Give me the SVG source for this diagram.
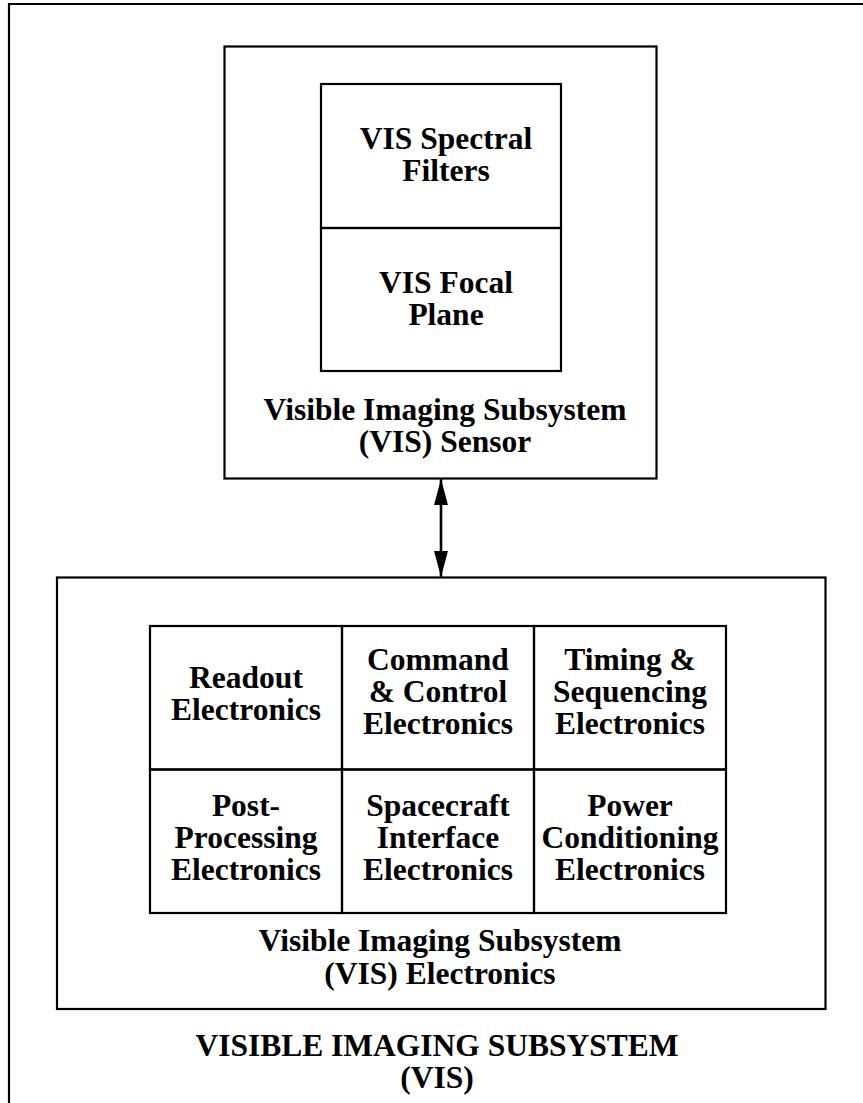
<svg xmlns="http://www.w3.org/2000/svg" width="863" height="1103" viewBox="0 0 863 1103">
<style>
.box{fill:none;stroke:#000;stroke-width:2.2}
.t{font-family:"Liberation Serif","Times New Roman",serif;font-weight:bold;font-size:31.5px;text-anchor:middle;fill:#000}
.conn{stroke:#000;stroke-width:2.6;fill:none}
</style>
<defs>
<marker id="ah" viewBox="0 0 26 14" refX="26" refY="7" markerWidth="26" markerHeight="14" markerUnits="userSpaceOnUse" orient="auto-start-reverse">
<path d="M0 0 L26 7 L0 14 Z" fill="#000"/>
</marker>
</defs>
<rect width="863" height="1103" fill="#fff"/>
<g id="vis-frame">
<path class="box" d="M9 1110 V4 H870"/>
<text class="t" x="437" y="1056">VISIBLE IMAGING SUBSYSTEM</text>
<text class="t" x="437" y="1088">(VIS)</text>
</g>
<g id="vis-sensor">
<rect class="box" x="224.5" y="46.5" width="432" height="432"/>
<text class="t" x="445" y="420">Visible Imaging Subsystem</text>
<text class="t" x="445" y="452">(VIS) Sensor</text>
</g>
<g id="spectral-filters">
<rect class="box" x="321" y="84" width="240" height="144"/>
<text class="t" x="446" y="149">VIS Spectral</text>
<text class="t" x="446" y="181">Filters</text>
</g>
<g id="focal-plane">
<rect class="box" x="321" y="228" width="240" height="143"/>
<text class="t" x="446" y="293">VIS Focal</text>
<text class="t" x="446" y="325">Plane</text>
</g>
<g id="vis-electronics">
<rect class="box" x="57" y="577.5" width="768.5" height="431.5"/>
<text class="t" x="440" y="951">Visible Imaging Subsystem</text>
<text class="t" x="440" y="984">(VIS) Electronics</text>
</g>
<g id="readout">
<rect class="box" x="150" y="626" width="192" height="143.5"/>
<text class="t" x="246" y="688">Readout</text>
<text class="t" x="246" y="720">Electronics</text>
</g>
<g id="command-control">
<rect class="box" x="342" y="626" width="192" height="143.5"/>
<text class="t" x="438" y="670">Command</text>
<text class="t" x="438" y="702">&amp; Control</text>
<text class="t" x="438" y="734">Electronics</text>
</g>
<g id="timing-sequencing">
<rect class="box" x="534" y="626" width="192" height="143.5"/>
<text class="t" x="630" y="670">Timing &amp;</text>
<text class="t" x="630" y="702">Sequencing</text>
<text class="t" x="630" y="734">Electronics</text>
</g>
<g id="post-processing">
<rect class="box" x="150" y="769.5" width="192" height="143.5"/>
<text class="t" x="246" y="816">Post-</text>
<text class="t" x="246" y="848">Processing</text>
<text class="t" x="246" y="880">Electronics</text>
</g>
<g id="spacecraft-interface">
<rect class="box" x="342" y="769.5" width="192" height="143.5"/>
<text class="t" x="438" y="816">Spacecraft</text>
<text class="t" x="438" y="848">Interface</text>
<text class="t" x="438" y="880">Electronics</text>
</g>
<g id="power-conditioning">
<rect class="box" x="534" y="769.5" width="192" height="143.5"/>
<text class="t" x="630" y="816">Power</text>
<text class="t" x="630" y="848">Conditioning</text>
<text class="t" x="630" y="880">Electronics</text>
</g>
<g id="connectors">
<line class="conn" x1="441" y1="479" x2="441" y2="577" marker-start="url(#ah)" marker-end="url(#ah)"/>
</g>
</svg>
